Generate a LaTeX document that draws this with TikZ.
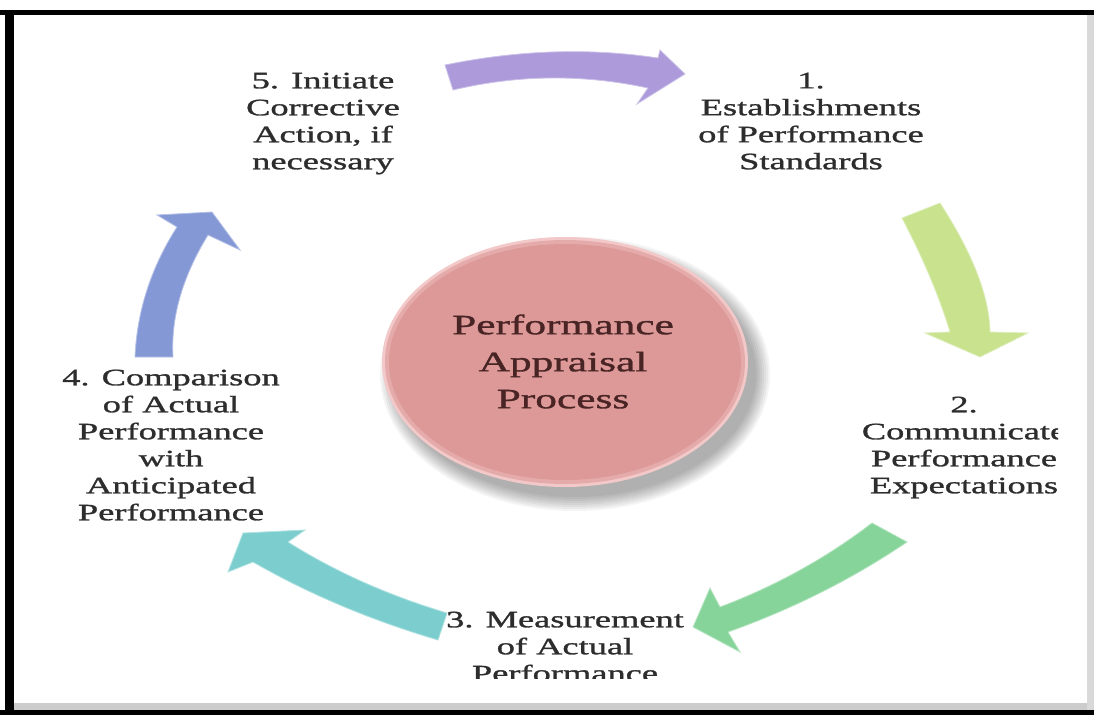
\documentclass[tikz,border=0pt]{standalone}
\usepackage{fontspec}
\setmainfont{Liberation Serif}[FakeStretch=1.55,FakeBold=1.2]

\definecolor{arrowpurple}{RGB}{172,154,218}
\definecolor{arrowlime}{RGB}{200,226,142}
\definecolor{arrowgreen}{RGB}{134,212,154}
\definecolor{arrowteal}{RGB}{124,206,206}
\definecolor{arrowblue}{RGB}{132,152,214}
\definecolor{hubpink}{RGB}{221,152,152}
\definecolor{hubrim}{RGB}{242,200,200}
\definecolor{hubtext}{RGB}{72,36,36}
\definecolor{labelgray}{RGB}{45,45,45}

\tikzset{
  steplabel/.style={align=center,inner sep=0pt,anchor=north,text=labelgray,
    font=\fontsize{23.5}{27}\selectfont},
  hublabel/.style={align=center,inner sep=0pt,anchor=north,text=hubtext,
    font=\fontsize{28}{37}\selectfont},
  cyclearrow/.style={fill=#1,draw=#1!60!white,line width=0.8pt},
}

\begin{document}
\begin{tikzpicture}[x=1pt,y=-1pt]
\useasboundingbox (0,0) rectangle (1094,715);
\fill[white] (0,0) rectangle (1094,715);

% frame
\fill[black] (0,10) rectangle (1094,15);
\fill[black] (5,10) rectangle (14,715);
\fill[black!20] (14,703) rectangle (1094,710);
\fill[black] (0,710) rectangle (1094,715);
\fill[black!15] (1087,15) rectangle (1094,710);

\begin{scope}
\clip (15,16) rectangle (1058,678);

% hub with its shadow
\foreach \i in {0,2,...,14}
  \fill[black,opacity=0.045] (575,374) ellipse [x radius=181+\i, y radius=123+\i];
\fill[hubrim] (565,362) ellipse [x radius=183, y radius=125];
\fill[hubpink!60!hubrim] (565,362) ellipse [x radius=180, y radius=122];
\fill[hubpink] (565,362) ellipse [x radius=176, y radius=118];
\node[hublabel] (hub) at (563,314.3) {Performance\\Appraisal\\Process};

% the five steps
\node[steplabel] (initiate) at (323,72.5) {5. Initiate\\Corrective\\Action, if\\necessary};
\node[steplabel] (establish) at (811,72.5) {1.\\Establishments\\of Performance\\Standards};
\node[steplabel] (communicate) at (964,396.5) {2.\\Communicate\\Performance\\Expectations};
\node[steplabel] (measure) at (565,611.5) {3. Measurement\\of Actual\\Performance};
\node[steplabel] (compare) at (171,369.5) {4. Comparison\\of Actual\\Performance\\with\\Anticipated\\Performance};

% arrows between the steps
\filldraw[cyclearrow=arrowpurple] (453,90) -- (445,65) .. controls (518,50) and (589,47.6) .. (658,58)
  -- (660,50) -- (685,74) -- (637,104) -- (648,88) .. controls (583,74) and (518,74.6) .. cycle;
\filldraw[cyclearrow=arrowlime] (902,218) -- (940,203) .. controls (972.7,253.3) and (989.3,296.3) .. (990,332)
  -- (1028,333) -- (980,357) -- (925,333) -- (950,332) .. controls (939.3,296.7) and (923.3,258.7) .. cycle;
\filldraw[cyclearrow=arrowgreen] (907,542) -- (872,523) .. controls (826.3,558) and (775.7,586) .. (720,607)
  -- (710,588) -- (693,627) -- (740,652) -- (728,632) .. controls (792.7,609) and (852.3,579) .. cycle;
\filldraw[cyclearrow=arrowteal] (438,640) -- (447,613) .. controls (388,595.3) and (335,571.7) .. (288,542)
  -- (305,530) -- (243,533) -- (228,572) -- (253,562) .. controls (308.7,594) and (370.3,620) .. cycle;
\filldraw[cyclearrow=arrowblue] (173,357) -- (135,357) .. controls (137,311) and (151,267.6) .. (177,227)
  -- (157,215) -- (212,212) -- (240,250) -- (208,235) .. controls (182.3,277) and (170.7,317.6) .. cycle;
\end{scope}
\end{tikzpicture}
\end{document}
